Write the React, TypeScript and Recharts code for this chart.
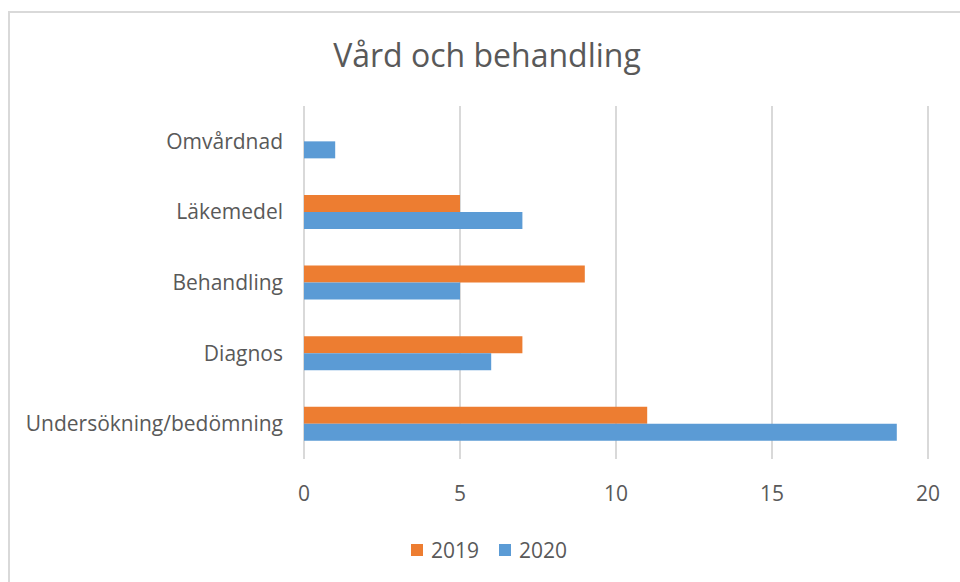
import React from 'react';
import { BarChart, Bar, XAxis, YAxis, CartesianGrid, Legend } from 'recharts';

const categories = ['Omvårdnad', 'Läkemedel', 'Behandling', 'Diagnos', 'Undersökning/bedömning'];
const values2019 = [0, 5, 9, 7, 11];
const values2020 = [1, 7, 5, 6, 19];
const xTicks = [0, 5, 10, 15, 20];

const data = categories.map((name, i) => ({
  name,
  '2019': values2019[i],
  '2020': values2020[i],
}));

const TEXT = '#595959';
const FONT = '"Open Sans", sans-serif';

const renderLegend = (props: any) => {
  const { payload } = props;
  return (
    <div style={{ display: 'flex', justifyContent: 'center', alignItems: 'center', fontFamily: FONT, fontSize: 21, color: TEXT, paddingLeft: 18 }}>
      {payload.map((entry: any, index: number) => (
        <div key={`item-${index}`} style={{ display: 'flex', alignItems: 'center', marginRight: index === 0 ? 20 : 0 }}>
          <span style={{ display: 'inline-block', width: 12, height: 12, background: entry.color, marginRight: 8 }} />
          <span style={{ lineHeight: '28px' }}>{entry.value}</span>
        </div>
      ))}
    </div>
  );
};

const App: React.FC = () => {
  return (
    <div style={{ position: 'absolute', left: 0, top: 0, width: 960, height: 582, background: '#fff', fontFamily: FONT }}>
      <div
        style={{
          position: 'absolute',
          left: 8,
          top: 11,
          width: 960,
          height: 580,
          border: '2px solid #d9d9d9',
          boxSizing: 'border-box',
        }}
      />
      <div
        style={{
          position: 'absolute',
          left: 0,
          width: 974,
          top: 33,
          textAlign: 'center',
          fontSize: 32,
          color: TEXT,
          lineHeight: '44px',
        }}
      >
        Vård och behandling
      </div>
      <div style={{ position: 'absolute', left: 0, top: 0 }}>
        <BarChart
          width={960}
          height={582}
          data={data}
          layout="vertical"
          margin={{ top: 106, right: 32, bottom: 93, left: 0 }}
          barCategoryGap="26%"
          barGap={0}
        >
          <CartesianGrid horizontal={false} stroke="#d9d9d9" strokeWidth={2} />
          <XAxis
            type="number"
            domain={[0, 20]}
            ticks={xTicks}
            axisLine={false}
            tickLine={false}
            tickMargin={21}
            tick={{ fill: TEXT, fontSize: 21, fontFamily: FONT }}
          />
          <YAxis
            type="category"
            dataKey="name"
            width={304}
            axisLine={false}
            tickLine={false}
            tickMargin={15}
            tick={{ fill: TEXT, fontSize: 21, fontFamily: FONT }}
          />
          <Legend
            verticalAlign="middle"
            align="center"
            layout="horizontal"
            wrapperStyle={{ top: 536, left: 0, width: 960 }}
            content={renderLegend}
          />
          <Bar dataKey="2019" fill="#ed7d31" isAnimationActive={false} />
          <Bar dataKey="2020" fill="#5b9bd5" isAnimationActive={false} />
        </BarChart>
      </div>
    </div>
  );
};

export default App;
